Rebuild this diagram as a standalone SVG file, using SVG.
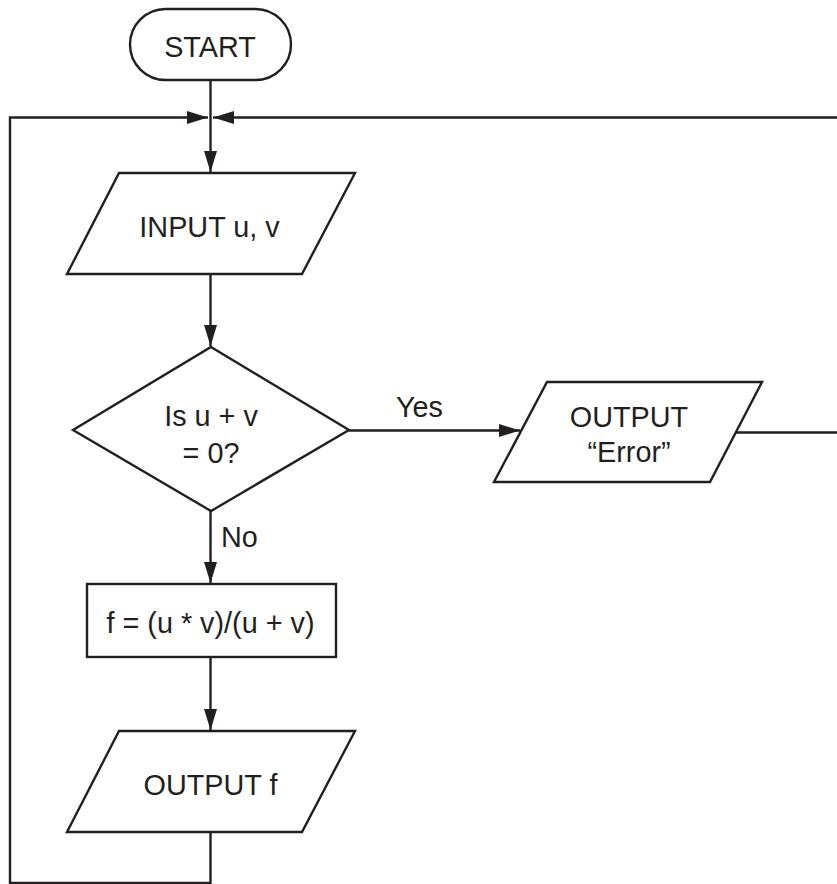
<svg xmlns="http://www.w3.org/2000/svg" width="837" height="884" viewBox="0 0 837 884">
<style>
.s{fill:#fff;stroke:#231f20;stroke-width:2.4;stroke-linejoin:miter}
.c{fill:none;stroke:#231f20;stroke-width:2.4}
text{font-family:"Liberation Sans",Arial,Helvetica,sans-serif;font-size:28.8px;fill:#231f20}
.m{text-anchor:middle}
</style>
<defs>
<marker id="ah" markerUnits="userSpaceOnUse" markerWidth="22" markerHeight="14" refX="21" refY="6.5" orient="auto">
<path d="M0,0 L21,6.5 L0,13 Z" fill="#231f20"/>
</marker>
</defs>
<rect width="837" height="884" fill="#fff"/>
<g id="connectors">
<line class="c" x1="210.5" y1="80" x2="210.5" y2="172" marker-end="url(#ah)"/>
<line class="c" x1="210.5" y1="274" x2="210.5" y2="346" marker-end="url(#ah)"/>
<line class="c" x1="349" y1="430.5" x2="520" y2="430.5" marker-end="url(#ah)"/>
<line class="c" x1="210.5" y1="511" x2="210.5" y2="583" marker-end="url(#ah)"/>
<line class="c" x1="210.5" y1="657" x2="210.5" y2="730" marker-end="url(#ah)"/>
<path class="c" d="M210.5,832 V883 H10 V117.5 H208" marker-end="url(#ah)"/>
<path class="c" d="M735,432.5 H841 V117.5 H213" marker-end="url(#ah)"/>
<text x="396" y="417">Yes</text>
<text x="221" y="547">No</text>
</g>
<g id="start">
<rect class="s" x="130" y="9" width="161" height="71" rx="35.5"/>
<text class="m" x="210" y="57">START</text>
</g>
<g id="input">
<polygon class="s" points="119,173 355,173 302,274 67,274"/>
<text class="m" x="209.5" y="237">INPUT u, v</text>
</g>
<g id="decision">
<polygon class="s" points="211,347 349,430 211,511 73,430"/>
<text class="m" x="211" y="426">Is u + v</text>
<text class="m" x="211" y="463">= 0?</text>
</g>
<g id="output-error">
<polygon class="s" points="547,382 762,382 710,482 494,482"/>
<text class="m" x="629" y="427">OUTPUT</text>
<text class="m" x="629" y="462">“Error”</text>
</g>
<g id="process">
<rect class="s" x="87" y="584" width="249" height="73"/>
<text class="m" x="210.5" y="633">f = (u * v)/(u + v)</text>
</g>
<g id="output-f">
<polygon class="s" points="119,731 355,731 302,832 67,832"/>
<text class="m" x="210.5" y="795">OUTPUT f</text>
</g>
</svg>
